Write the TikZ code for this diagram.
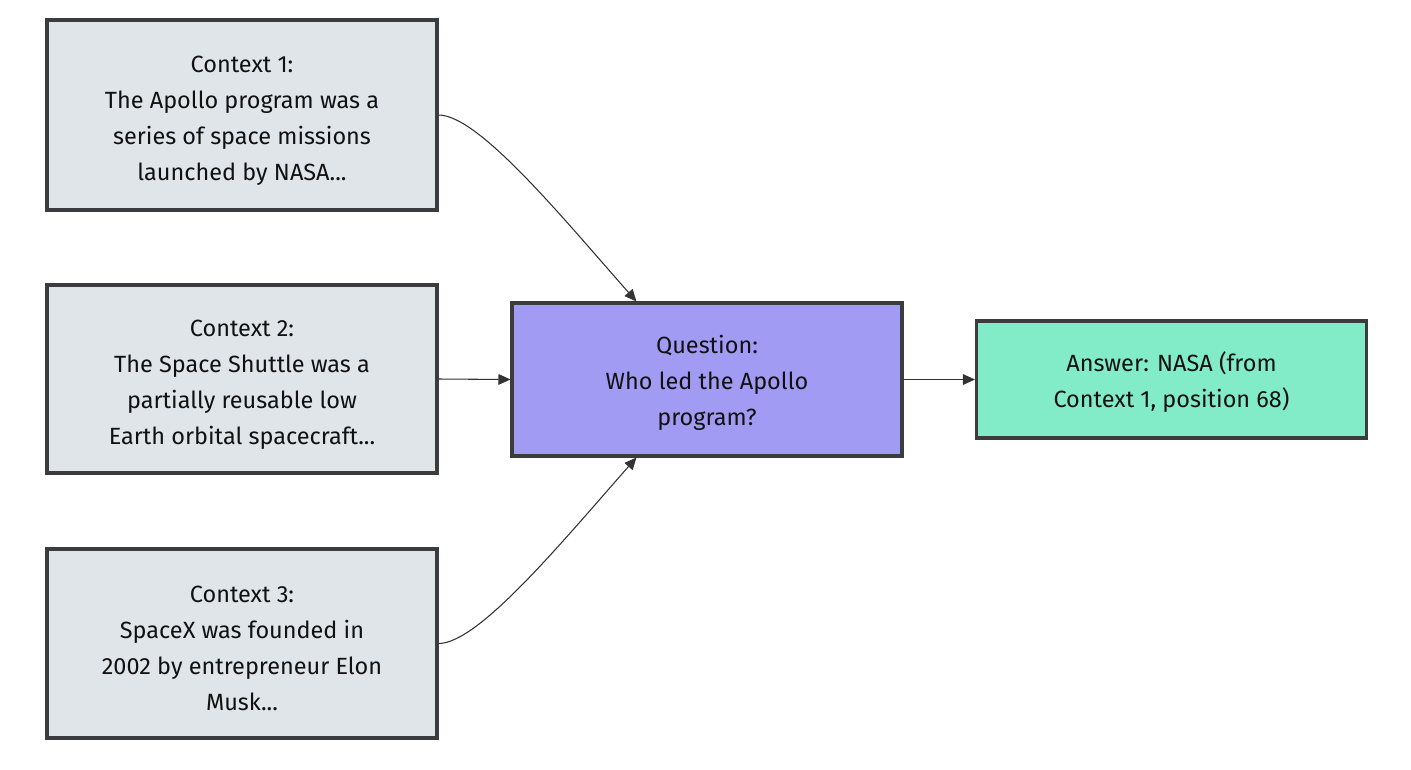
\documentclass[tikz,border=0pt]{standalone}
\usepackage{fontspec}
\setmainfont{Fira Sans}
\usetikzlibrary{arrows.meta}
\definecolor{ctxfill}{HTML}{E0E5E9}
\definecolor{qfill}{HTML}{A29BF4}
\definecolor{afill}{HTML}{82EBC7}
\definecolor{boxline}{HTML}{3A3C3E}
\definecolor{linec}{HTML}{333333}
\definecolor{textc}{HTML}{111111}
\begin{document}
\begin{tikzpicture}[x=0.75pt,y=-0.75pt,
  box/.style={draw=boxline, line width=2.3pt, minimum width=292.5pt, inner sep=0pt},
  ctx/.style={box, fill=ctxfill},
  txt/.style={align=center, font=\fontsize{17.6}{27}\selectfont, text=textc, inner sep=0pt},
  conn/.style={draw=linec, line width=0.8pt, -{Triangle[length=9pt,width=8pt]}}
]
\useasboundingbox (0,0) rectangle (1411,769);
\node[ctx, minimum height=142.5pt] (c1) at (242,115) {};
\node[ctx, minimum height=141pt] (c2) at (242,379) {};
\node[ctx, minimum height=141.75pt] (c3) at (242,643.5) {};
\node[box, fill=qfill, minimum height=114.75pt] (q) at (707,379.5) {};
\node[box, fill=afill, minimum height=87.75pt] (a) at (1171.5,379.5) {};
\node[txt] (c1t) at ([yshift=-4pt]c1.center) {Context 1:\\The Apollo program was a\\series of space missions\\launched by NASA...};
\node[txt] (c2t) at ([yshift=-4pt]c2.center) {Context 2:\\The Space Shuttle was a\\partially reusable low\\Earth orbital spacecraft...};
\node[txt] (c3t) at ([yshift=-4pt]c3.center) {Context 3:\\SpaceX was founded in\\2002 by entrepreneur Elon\\Musk...};
\node[txt] (qt0) at ([yshift=-2.2pt]q.center) {Question:\\Who led the Apollo\\program?};
\node[txt] (at0) at ([yshift=-2pt]a.center) {Answer: NASA (from\\Context 1, position 68)};
\coordinate (qt) at ([xshift=94.5pt]q.north west);
\coordinate (qb) at ([xshift=94.5pt]q.south west);
\draw[conn] (c1.east) .. controls ++(40,0) and ++(-75,-85) .. (qt);
\draw[conn] (c3.east) .. controls ++(40,0) and ++(-75,85) .. (qb);
\draw[conn] (c2.east) -- (q.west);
\draw[conn] (q.east) -- (a.west);
\end{tikzpicture}
\end{document}
